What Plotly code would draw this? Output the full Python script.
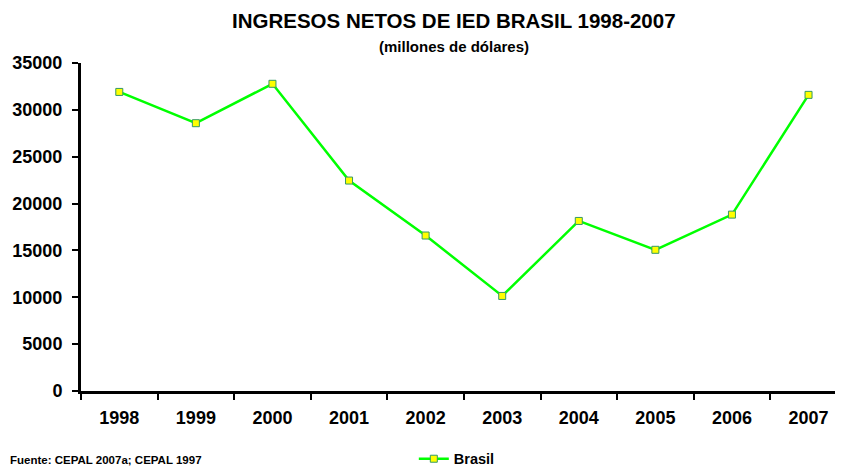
"""
Ingresos netos de IED Brasil 1998-2007 — line chart.
"""
import plotly.graph_objects as go

years = ["1998", "1999", "2000", "2001", "2002", "2003", "2004", "2005", "2006", "2007"]
brasil = [31913, 28576, 32779, 22457, 16590, 10144, 18146, 15066, 18822, 31600]
y_ticks = [0, 5000, 10000, 15000, 20000, 25000, 30000, 35000]

FONT = "Arial, Liberation Sans, sans-serif"

fig = go.Figure()
fig.add_trace(go.Scatter(
    x=years, y=brasil,
    mode="lines+markers",
    name="<b>Brasil</b>",
    line=dict(color="#00ff00", width=2.5),
    marker=dict(symbol="square", size=7, color="#ffff00",
                line=dict(color="#339966", width=1)),
))

# page body adds an 8px offset, so the figure is 8px smaller each way
fig.update_layout(
    width=835, height=460,
    margin=dict(l=73, r=0, t=54.5, b=77, autoexpand=False),
    paper_bgcolor="white",
    plot_bgcolor="white",
    font=dict(family=FONT, size=18, color="black"),
    showlegend=True,
    legend=dict(
        orientation="h",
        xref="container", yref="container",
        x=0.486, y=0.02, xanchor="left", yanchor="middle",
        font=dict(size=14.5, color="black"),
        itemwidth=30,
        bgcolor="rgba(0,0,0,0)",
    ),
    xaxis=dict(
        type="category",
        range=[-0.5, 9.45],
        showgrid=False,
        showline=True, linecolor="black", linewidth=3,
        ticks="outside", ticklen=6, tickwidth=2, tickcolor="black",
        tickson="boundaries",
        ticklabelstandoff=8,
        tickfont=dict(size=18, family=FONT, weight="bold"),
        fixedrange=True,
    ),
    yaxis=dict(
        range=[0, 35000],
        tickvals=y_ticks,
        ticktext=[f"<b>{v}</b>" for v in y_ticks],
        showgrid=False, zeroline=False,
        showline=True, linecolor="black", linewidth=3,
        ticks="outside", ticklen=6, tickwidth=2, tickcolor="black",
        ticklabelstandoff=6,
        tickfont=dict(size=18, family=FONT),
        fixedrange=True,
    ),
    annotations=[
        dict(text="<b>INGRESOS NETOS DE IED BRASIL 1998-2007</b>",
             xref="paper", yref="paper", x=0.4895, y=1.129,
             xanchor="center", yanchor="middle", showarrow=False,
             font=dict(size=20.5, family=FONT)),
        dict(text="<b>(millones de dólares)</b>",
             xref="paper", yref="paper", x=0.4895, y=1.05,
             xanchor="center", yanchor="middle", showarrow=False,
             font=dict(size=15, family=FONT)),
        dict(text="<b>Fuente: CEPAL 2007a; CEPAL 1997</b>",
             xref="paper", yref="paper", x=-0.0958, y=-0.21,
             xanchor="left", yanchor="middle", showarrow=False,
             font=dict(size=11.5, family=FONT)),
    ],
)

fig.write_html("out.html")
